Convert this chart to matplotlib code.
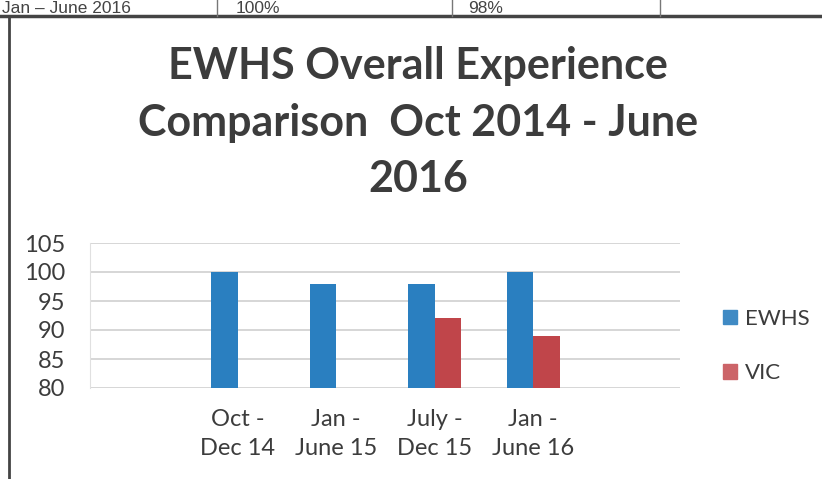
import matplotlib
matplotlib.use('Agg')
import matplotlib.pyplot as plt
from matplotlib.patches import Patch
import numpy as np

categories = ['Oct -\nDec 14', 'Jan -\nJune 15', 'July -\nDec 15', 'Jan -\nJune 16']
ewhs = [100, 98, 98, 100]
vic = [np.nan, np.nan, 92, 89]
y_ticks = [80, 85, 90, 95, 100, 105]

BLUE = '#2a7fc0'
RED = '#c0454a'
TEXT = '#3c3c3c'

fig = plt.figure(figsize=(8.22, 4.79), dpi=100)
ax = fig.add_axes([90 / 822, 91 / 479, 590 / 822, 145 / 479])

x = np.arange(len(categories))
w = 0.27
ax.bar(x - w / 2, ewhs, width=w, color=BLUE, zorder=3)
ax.bar(x + w / 2, vic, width=w, color=RED, zorder=3)

ax.set_ylim(80, 105)
ax.set_xlim(-1.5, 4.49)
ax.set_yticks(y_ticks)
ax.set_xticks(x)
ax.set_xticklabels(categories, fontsize=17, family='Lato', color=TEXT, linespacing=1.5)
ax.tick_params(axis='y', labelsize=17, labelcolor=TEXT, length=0, pad=18)
ax.tick_params(axis='x', length=0, pad=15)
for lbl in ax.get_yticklabels():
    lbl.set_family('Lato')
ax.grid(axis='y', color='#cfcfcf', linewidth=1.2, zorder=0)
for s in ['top', 'right', 'bottom']:
    ax.spines[s].set_visible(False)
ax.spines['left'].set_color('#e0e0e0')

# title
fig.text(418 / 822, 1 - 123 / 479, 'EWHS Overall Experience\nComparison  Oct 2014 - June\n2016',
         ha='center', va='center', fontsize=31, fontweight='bold', family='Lato',
         color=TEXT, linespacing=1.5)

# legend
handles = [Patch(color='#3f8ac4'), Patch(color='#cc6468')]
fig.legend(handles, ['EWHS', 'VIC'], loc='center left', bbox_to_anchor=(723 / 822, 1 - 346 / 479),
           frameon=False, prop={'family': 'Lato', 'size': 16}, labelcolor=TEXT, borderpad=0,
           borderaxespad=0, handlelength=0.65, handleheight=0.65, handletextpad=0.35, labelspacing=1.55)

# fragment of the table above the chart (scan crop)
top_y = 1 - 13 / 479
fig.text(2 / 822, top_y, 'Jan \u2013 June 2016', fontsize=12.5, family='Liberation Sans', color='#444444', va='baseline')
fig.text(236 / 822, top_y, '100%', fontsize=12.5, family='Liberation Sans', color='#444444', va='baseline')
fig.text(468 / 822, top_y, '98%', fontsize=12.5, family='Liberation Sans', color='#444444', va='baseline')
fig.add_artist(plt.Line2D([0, 1], [1 - 16 / 479, 1 - 16 / 479], color='#444444', linewidth=2.5))
fig.add_artist(plt.Line2D([9 / 822, 9 / 822], [0, 1 - 16 / 479], color='#444444', linewidth=2))
for xp in [217, 452, 660]:
    fig.add_artist(plt.Line2D([xp / 822, xp / 822], [1 - 16 / 479, 1], color='#777777', linewidth=1))

fig.savefig('out.png', dpi=100)
